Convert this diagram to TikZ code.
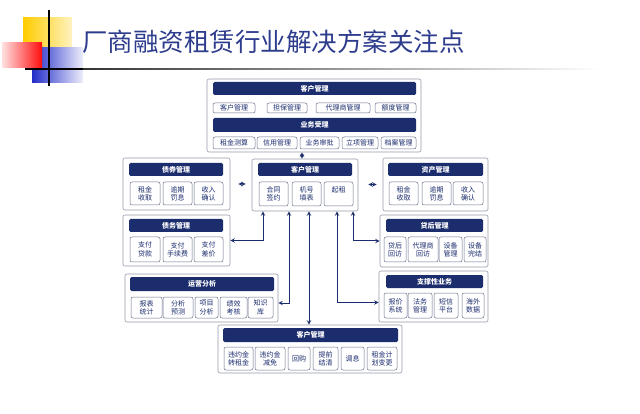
\documentclass[tikz,border=0pt]{standalone}
\usepackage{fontspec}
\setmainfont{Noto Sans CJK SC}
\usepackage{tikz}
\usepackage{xcolor}
\usetikzlibrary{arrows, shapes, positioning}
\definecolor{navy}{RGB}{28,45,110}
\definecolor{sbc}{RGB}{105,112,140}
\definecolor{obc}{RGB}{150,155,172}
\definecolor{ttl}{RGB}{45,60,140}
\definecolor{ylw}{RGB}{255,204,0}
\definecolor{blu}{RGB}{35,45,200}
\tikzset{
  ob/.style={draw=obc,rounded corners=2pt,fill=white,line width=.6pt,inner sep=0},
  hd/.style={fill=navy,text=white,rounded corners=1.5pt,inner sep=0,font=\fontsize{7}{8}\selectfont\bfseries},
  sb/.style={draw=sbc,rounded corners=2pt,fill=white,inner sep=0,align=center,text=navy,line width=.5pt,font=\fontsize{7}{8.3}\selectfont},
  ar/.style={<->,>=stealth,line width=1pt,draw=navy},
}

\begin{document}
\begin{tikzpicture}[x=1pt,y=-1pt]
  \useasboundingbox (0,0) rectangle (640,414);

  % title corner
  \shade[left color=ylw, right color=ylw!25] (23,18) rectangle (72,50);
  \shade[left color=blu, right color=blu!8] (32,48) rectangle (83,83);
  \shade[left color=red!12, right color=red!95] (2,43) rectangle (42,68);
  \draw[line width=1.2pt] (49,10) -- (49,86);
  \draw[line width=1.2pt] (25,69) -- (83,69);
  \shade[left color=black!80, middle color=black!40, right color=white] (83,68.4) rectangle (600,69.6);
  \node[anchor=west,text=ttl,font=\fontsize{25.5}{28}\selectfont,inner sep=0] (title) at (82,42) {厂商融资租赁行业解决方案关注点};

  % top block
  \node[ob,minimum width=214pt,minimum height=73pt] (top) at (314,115.5) {};
  \node[hd,minimum width=203pt,minimum height=13pt] (toph) at (314.5,88.5) {客户管理};
  \node[hd,minimum width=203pt,minimum height=14pt] (topg) at (314.5,125) {业务受理};
  \foreach \x/\w/\t [count=\i] in {234/42/客户管理, 287/40/担保管理, 343/54/代理商管理, 395.5/41/额度管理}{
    \node[sb,minimum width=\w pt,minimum height=10pt] (ta\i) at (\x,108) {\t};
  }
  \foreach \x/\w/\t [count=\i] in {234/42/租金测算, 277/40/信用管理, 319.5/39/业务审批, 360/36/立项管理, 398.5/35/档案管理}{
    \node[sb,minimum width=\w pt,minimum height=12pt] (tb\i) at (\x,143) {\t};
  }

  % left blocks
  \node[ob,minimum width=107pt,minimum height=52pt] (zq) at (176.5,184) {};
  \node[hd,minimum width=94pt,minimum height=13pt] (zqh) at (176,169.5) {债券管理};
  \foreach \x/\w/\t [count=\i] in {145/30/{租金\\收取}, 177.5/29/{逾期\\罚息}, 208.5/29/{收入\\确认}}{
    \node[sb,minimum width=\w pt,minimum height=23pt] (zq\i) at (\x,193.5) {\t};
  }
  \node[ob,minimum width=107pt,minimum height=51pt] (dm) at (176.5,240.5) {};
  \node[hd,minimum width=94pt,minimum height=13pt] (dmh) at (176,225.5) {债务管理};
  \foreach \x/\w/\t [count=\i] in {145/30/{支付\\贷款}, 177.5/29/{支付\\手续费}, 208.5/29/{支付\\差价}}{
    \node[sb,minimum width=\w pt,minimum height=25pt] (dm\i) at (\x,249.5) {\t};
  }
  \node[ob,minimum width=153pt,minimum height=48pt] (yy) at (201.5,298) {};
  \node[hd,minimum width=144pt,minimum height=14pt] (yyh) at (202,284) {运营分析};
  \foreach \x/\w/\t [count=\i] in {146.5/31/{报表\\统计}, 178/30/{分析\\预测}, 206.5/23/{项目\\分析}, 233.5/27/{绩效\\考核}, 260.5/25/{知识\\库}}{
    \node[sb,minimum width=\w pt,minimum height=21pt] (yy\i) at (\x,307.5) {\t};
  }

  % centre block
  \node[ob,minimum width=106pt,minimum height=52pt] (cm) at (305,185) {};
  \node[hd,minimum width=94pt,minimum height=13pt] (cmh) at (305,169.5) {客户管理};
  \foreach \x/\w/\t [count=\i] in {273.5/29/{合同\\签约}, 306.5/29/{机号\\填表}, 338.5/29/{起租\\\mbox{}}}{
    \node[sb,minimum width=\w pt,minimum height=24pt] (cm\i) at (\x,194) {\t};
  }

  % right blocks
  \node[ob,minimum width=105pt,minimum height=53pt] (zc) at (435.5,184.5) {};
  \node[hd,minimum width=95pt,minimum height=13pt] (zch) at (435.5,169.5) {资产管理};
  \foreach \x/\w/\t [count=\i] in {403.5/29/{租金\\收取}, 436.5/29/{逾期\\罚息}, 468/30/{收入\\确认}}{
    \node[sb,minimum width=\w pt,minimum height=23pt] (zc\i) at (\x,193.5) {\t};
  }
  \node[ob,minimum width=108pt,minimum height=52pt] (dh) at (434,241) {};
  \node[hd,minimum width=97pt,minimum height=13pt] (dhh) at (434.5,225.5) {贷后管理};
  \foreach \x/\w/\t [count=\i] in {395/22/{贷后\\回访}, 423/30/{代理商\\回访}, 450.5/23/{设备\\管理}, 475/22/{设备\\完结}}{
    \node[sb,minimum width=\w pt,minimum height=25pt] (dh\i) at (\x,249.5) {\t};
  }
  \node[ob,minimum width=109pt,minimum height=51pt] (zs) at (433.5,296.5) {};
  \node[hd,minimum width=97pt,minimum height=13pt] (zsh) at (434.5,281.5) {支撑性业务};
  \foreach \x/\w/\t [count=\i] in {395.5/23/{报价\\系统}, 420/24/{法务\\管理}, 446/24/{短信\\平台}, 473/22/{海外\\数据}}{
    \node[sb,minimum width=\w pt,minimum height=25pt] (zs\i) at (\x,305.5) {\t};
  }

  % bottom block
  \node[ob,minimum width=184pt,minimum height=48pt] (bm) at (310,349) {};
  \node[hd,minimum width=175pt,minimum height=14pt] (bmh) at (310.5,335) {客户管理};
  \foreach \x/\w/\t [count=\i] in {238.5/29/{违约金\\转租金}, 270/30/{违约金\\减免}, 299/22/回购, 325.5/25/{提前\\结清}, 352.5/23/调息, 382/30/{租金计\\划变更}}{
    \node[sb,minimum width=\w pt,minimum height=23pt] (bm\i) at (\x,358.5) {\t};
  }

  % connectors
  \draw[ar] ([xshift=-3pt]cm.north) -- ([xshift=-3pt]cm.north |- top.south);
  \draw[ar,shorten <=8pt,shorten >=6pt] (zq.east) -- (zq.east -| cm.west);
  \draw[ar,shorten <=10pt,shorten >=6pt] (cm.east |- zc.west) -- (zc.west);
  \draw[ar] ([xshift=-42pt]cm.south) |- (dm.east);
  \draw[ar] ([xshift=-16pt]cm.south) |- ([yshift=-5pt]yy.east);
  \draw[ar] ([xshift=4pt]cm.south) -- ([xshift=4pt]cm.south |- bm.north);
  \draw[ar] ([xshift=32pt]cm.south) |- ([yshift=-6pt]zs.west);
  \draw[ar] ([xshift=48pt]cm.south) |- (dh.west);
\end{tikzpicture}
\end{document}
